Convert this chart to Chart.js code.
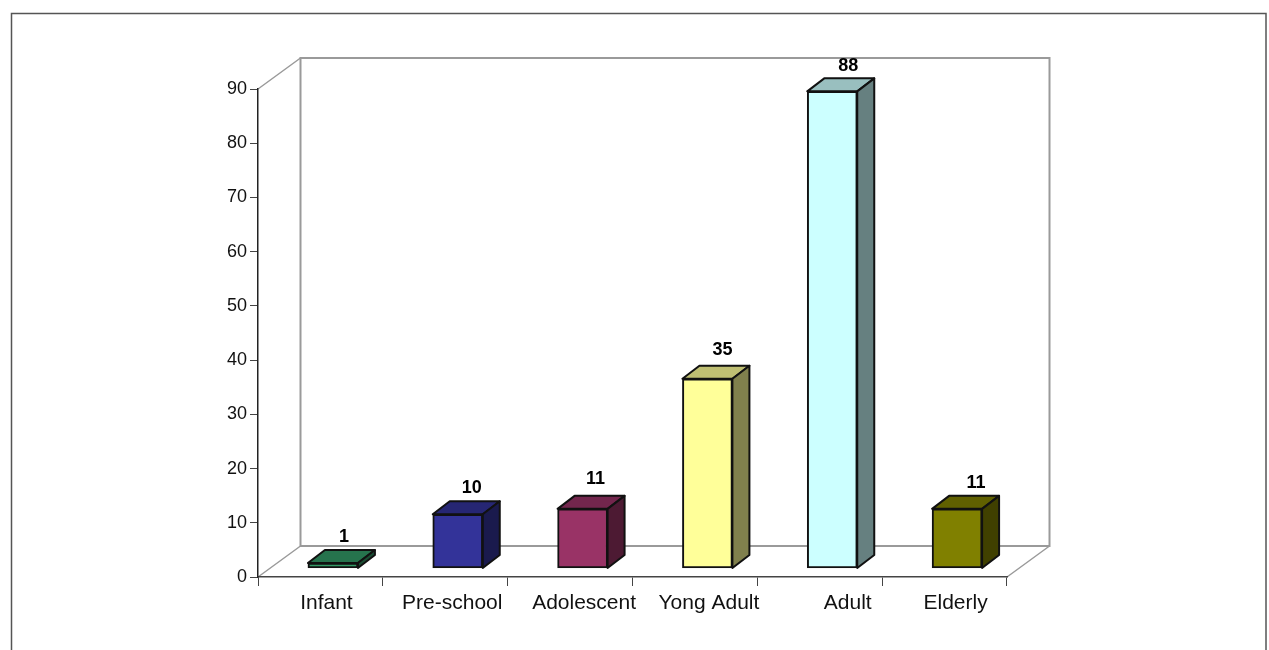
<!DOCTYPE html>
<html>
<head>
<meta charset="utf-8">
<title>Age groups</title>
<script src="https://cdn.jsdelivr.net/npm/chart.js@4"></script>
<style>
  html, body { margin: 0; padding: 0; background: #fff; overflow: hidden; }
  canvas { display: block; }
</style>
</head>
<body>
<canvas id="ageChart" width="1269" height="650"></canvas>
<script>
const categories = ['Infant', 'Pre-school', 'Adolescent', 'Yong Adult', 'Adult', 'Elderly'];
const counts = [1, 10, 11, 35, 88, 11];
const barColors = ['#339966', '#333399', '#993366', '#ffff99', '#ccffff', '#808000'];
const yTicks = [0, 10, 20, 30, 40, 50, 60, 70, 80, 90];

// labels are placed a bit unevenly in the original
const labelShift = [6, 7, 14, 14, 28, 11];
const valueShiftX = [11, 14, 13, 15, 16, 19];
const valueShiftY = [-26.5, -26.5, -29.5, -28.5, -25.5, -25.5];

const FONT = '"Liberation Sans", Arial, sans-serif';
// depth of the box the chart sits in, and of each bar
const WALL_X = 42.5, WALL_Y = 31;
const BAR_X = 17, BAR_Y = 13;
// bars stand a bit inside the floor
const FLOOR_X = 12.5, FLOOR_Y = 8.5;

function shade(hex, f) {
  const n = parseInt(hex.slice(1), 16);
  const r = Math.round((n >> 16) * f);
  const g = Math.round(((n >> 8) & 255) * f);
  const b = Math.round((n & 255) * f);
  return `rgb(${r},${g},${b})`;
}

function poly(ctx, pts, fill) {
  ctx.beginPath();
  pts.forEach((p, i) => i ? ctx.lineTo(p[0], p[1]) : ctx.moveTo(p[0], p[1]));
  ctx.closePath();
  if (fill) {
    ctx.fillStyle = fill;
    ctx.fill();
  }
  ctx.stroke();
}

const box3d = {
  id: 'box3d',
  beforeDraw(chart) {
    const ctx = chart.ctx;
    const { left, right, top, bottom } = chart.chartArea;

    // outer frame, runs off the bottom of the picture
    ctx.save();
    ctx.strokeStyle = '#555';
    ctx.lineWidth = 1.5;
    ctx.beginPath();
    ctx.moveTo(11.5, 650);
    ctx.lineTo(11.5, 13.5);
    ctx.lineTo(1266, 13.5);
    ctx.lineTo(1266, 650);
    ctx.stroke();

    // back wall and floor
    ctx.strokeStyle = '#9a9a9a';
    ctx.lineWidth = 2;
    ctx.strokeRect(left + WALL_X, top - WALL_Y, right - left, bottom - top);
    ctx.lineWidth = 1.5;
    ctx.beginPath();
    ctx.moveTo(left, top);
    ctx.lineTo(left + WALL_X, top - WALL_Y);
    ctx.moveTo(left, bottom);
    ctx.lineTo(left + WALL_X, bottom - WALL_Y);
    ctx.moveTo(right, bottom);
    ctx.lineTo(right + WALL_X, bottom - WALL_Y);
    ctx.stroke();
    ctx.restore();
  },
  beforeDatasetsDraw(chart) {
    const ctx = chart.ctx;
    ctx.save();
    ctx.translate(FLOOR_X, -FLOOR_Y);
    ctx.strokeStyle = '#111';
    ctx.lineWidth = 2;
    ctx.lineJoin = 'round';
    chart.getDatasetMeta(0).data.forEach((bar, i) => {
      const x0 = bar.x - bar.width / 2, x1 = bar.x + bar.width / 2;
      poly(ctx, [[x0, bar.y], [x0 + BAR_X, bar.y - BAR_Y], [x1 + BAR_X, bar.y - BAR_Y], [x1, bar.y]], shade(barColors[i], 0.75));
      poly(ctx, [[x1, bar.y], [x1 + BAR_X, bar.y - BAR_Y], [x1 + BAR_X, bar.base - BAR_Y], [x1, bar.base]], shade(barColors[i], 0.5));
    });
  },
  afterDatasetsDraw(chart) {
    const ctx = chart.ctx;
    ctx.restore();

    // value labels over the bars
    ctx.save();
    ctx.fillStyle = '#000';
    ctx.font = 'bold 18px ' + FONT;
    ctx.textAlign = 'center';
    ctx.textBaseline = 'middle';
    chart.getDatasetMeta(0).data.forEach((bar, i) => {
      ctx.fillText(String(counts[i]), bar.x + FLOOR_X + valueShiftX[i], bar.y - FLOOR_Y + valueShiftY[i]);
    });

    ctx.fillStyle = '#111';
    ctx.font = '21px ' + FONT;
    const xScale = chart.scales.x;
    categories.forEach((name, i) => {
      ctx.fillText(name, xScale.getPixelForTick(i) + labelShift[i], 603);
    });
    ctx.restore();
  }
};

new Chart(document.getElementById('ageChart').getContext('2d'), {
  type: 'bar',
  data: {
    labels: categories,
    datasets: [{
      data: counts,
      backgroundColor: barColors,
      borderColor: '#111',
      borderWidth: 2,
      borderSkipped: false,
      barThickness: 50
    }]
  },
  options: {
    responsive: false,
    animation: false,
    layout: { padding: { left: 208, right: 262, top: 89, bottom: 64 } },
    plugins: { legend: { display: false }, tooltip: { enabled: false } },
    scales: {
      x: {
        afterFit(scale) { scale.height = 9; },
        ticks: { display: false },
        grid: { drawOnChartArea: false, tickLength: 9, tickColor: '#444' },
        border: { color: '#444', width: 1.5 }
      },
      y: {
        min: 0,
        max: 90,
        afterFit(scale) { scale.width = 50; },
        afterBuildTicks(scale) { scale.ticks = yTicks.map(v => ({ value: v })); },
        ticks: { color: '#111', font: { family: FONT, size: 18 }, padding: 3 },
        grid: { drawOnChartArea: false, tickLength: 8, tickColor: '#444' },
        border: { color: '#222', width: 1.5 }
      }
    }
  },
  plugins: [box3d]
});
</script>
</body>
</html>
